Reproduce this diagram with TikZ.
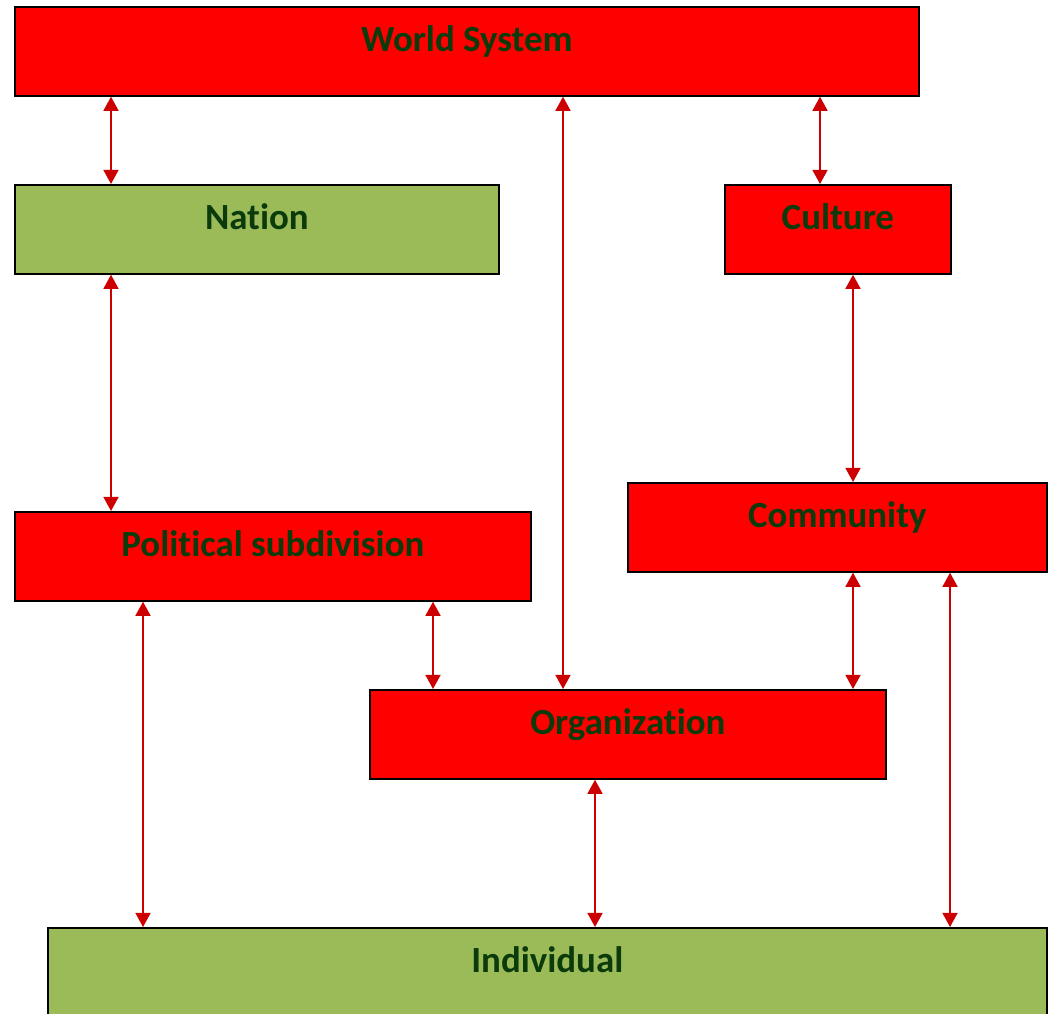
\documentclass[tikz,border=0pt]{standalone}
\usepackage{fontspec}
\setmainfont{Carlito}[Ligatures=NoCommon]
\usetikzlibrary{arrows.meta}

\definecolor{boxred}{HTML}{FF0000}
\definecolor{boxgreen}{HTML}{9BBB59}
\definecolor{txtgreen}{HTML}{0B3A0B}
\definecolor{arrowred}{HTML}{CC0000}

\tikzset{
  box/.style={draw=black, line width=1pt, inner sep=0pt, anchor=north west,
    text height=0.9cm, text depth=0.88cm, text=txtgreen,
    font=\fontsize{21}{25}\selectfont\bfseries},
  redbox/.style={box, fill=boxred},
  greenbox/.style={box, fill=boxgreen},
  link/.style={draw=arrowred, line width=1pt,
    {Triangle[width=8.5pt,length=8pt]}-{Triangle[width=8.5pt,length=8pt]}}
}

\begin{document}
\begin{tikzpicture}[x=0.02cm,y=-0.02cm]
\useasboundingbox (0,0) rectangle (1050,1013);

\node[redbox, minimum width=18.08cm] (world) at (14,6) {World System};
\node[greenbox, minimum width=9.68cm] (nation) at (14,184) {Nation};
\node[redbox, minimum width=4.52cm] (culture) at (724,184) {Culture};
\node[redbox, minimum width=10.32cm] (polsub) at (14,511) {Political subdivision};
\node[redbox, minimum width=8.38cm] (community) at (627,482) {Community};
\node[redbox, minimum width=10.32cm] (org) at (369,689) {Organization};
\node[greenbox, minimum width=19.98cm] (indiv) at (47,927) {Individual};

\draw[link] (111,0 |- world.south) -- (111,0 |- nation.north);
\draw[link] (563,0 |- world.south) -- (563,0 |- org.north);
\draw[link] (820,0 |- world.south) -- (820,0 |- culture.north);
\draw[link] (111,0 |- nation.south) -- (111,0 |- polsub.north);
\draw[link] (853,0 |- culture.south) -- (853,0 |- community.north);
\draw[link] (143,0 |- polsub.south) -- (143,0 |- indiv.north);
\draw[link] (433,0 |- polsub.south) -- (433,0 |- org.north);
\draw[link] (853,0 |- community.south) -- (853,0 |- org.north);
\draw[link] (950,0 |- community.south) -- (950,0 |- indiv.north);
\draw[link] (595,0 |- org.south) -- (595,0 |- indiv.north);
\end{tikzpicture}
\end{document}
